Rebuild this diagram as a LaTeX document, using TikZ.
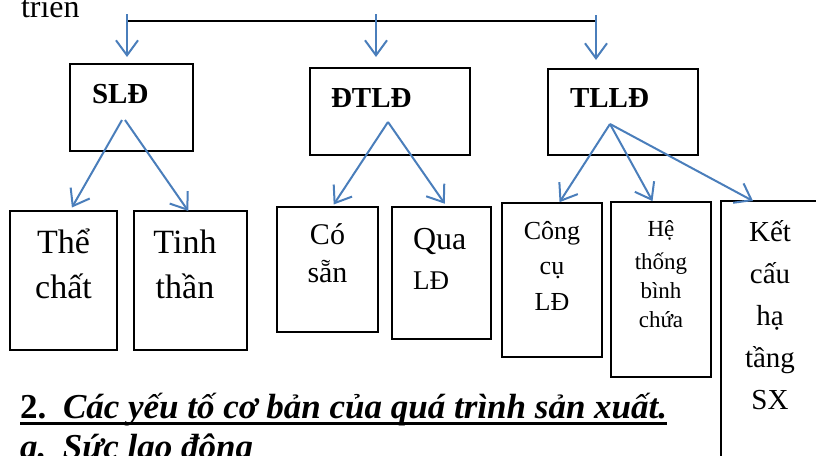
\documentclass[tikz,border=0pt]{standalone}
\usepackage{fontspec}
\setmainfont{Liberation Serif}
\usetikzlibrary{arrows.meta,calc}
\definecolor{arrblue}{RGB}{74,126,187}
\begin{document}
\begin{tikzpicture}[x=1pt,y=-1pt,
  box/.style={draw=black,line width=1.8pt,rectangle,inner sep=0pt,outer sep=0pt,anchor=north west},
  arr/.style={draw=arrblue,line width=2pt,-{Straight Barb[length=15pt,width=22pt]}},
  txt/.style={inner sep=0pt,outer sep=0pt}]
\useasboundingbox (0,0) rectangle (816,455);
\clip (0,0) rectangle (816,455);

% top-level boxes
\node[box,minimum width=123pt,minimum height=87pt] (sld) at (70,64) {};
\node[box,minimum width=160pt,minimum height=87pt] (dtld) at (310,68) {};
\node[box,minimum width=150pt,minimum height=86pt] (tlld) at (548,69) {};
% child boxes
\node[box,minimum width=107pt,minimum height=139pt] (the) at (10,211) {};
\node[box,minimum width=113pt,minimum height=139pt] (tinh) at (134,211) {};
\node[box,minimum width=101pt,minimum height=125pt] (co) at (277,207) {};
\node[box,minimum width=99pt,minimum height=132pt] (qua) at (392,207) {};
\node[box,minimum width=100pt,minimum height=154pt] (cong) at (502,203) {};
\node[box,minimum width=100pt,minimum height=175pt] (he) at (611,202) {};
\node[box,minimum width=98pt,minimum height=270pt] (ket) at (721,201) {};

% texts (anchor=base is the baseline of the last line)
\node[txt,anchor=base west,font=\fontsize{32}{38}\selectfont] (tr) at (21,17) {triển};
\node[txt,anchor=base west,font=\bfseries\fontsize{29}{34}\selectfont] (sldt) at (92,103) {SLĐ};
\node[txt,anchor=base west,font=\bfseries\fontsize{29}{34}\selectfont] (dtldt) at (331,107) {ĐTLĐ};
\node[txt,anchor=base west,font=\bfseries\fontsize{29}{34}\selectfont] (tlldt) at (570,107) {TLLĐ};
\node[txt,anchor=base,align=center,font=\fontsize{34}{45}\selectfont] (thet) at (63.5,298) {Thể\\chất};
\node[txt,anchor=base,align=center,font=\fontsize{34}{45}\selectfont] (tinht) at (185,298) {Tinh\\thần};
\node[txt,anchor=base,align=center,font=\fontsize{30}{38}\selectfont] (cot) at (327.5,282) {Có\\sẵn};
\node[txt,anchor=base west,align=left,font=\fontsize{32}{40}\selectfont] (quat) at (413,289) {Qua\\{\fontsize{27}{40}\selectfont LĐ}};
\node[txt,anchor=base,align=center,font=\fontsize{26}{35.5}\selectfont] (congt) at (552,310) {Công\\cụ\\LĐ};
\node[txt,anchor=base,align=center,font=\fontsize{23}{29}\selectfont] (het) at (661,327) {Hệ\\[4pt]thống\\bình\\chứa};
\node[txt,anchor=base,align=center,font=\fontsize{29}{42}\selectfont] (kett) at (770,409) {Kết\\cấu\\hạ\\tầng\\SX};
\node[txt,anchor=base west,font=\bfseries\fontsize{35}{40}\selectfont] (head) at (20,418) {\makebox[43pt][l]{2.}\textit{Các yếu tố cơ bản của quá trình sản xuất.}};
\node[txt,anchor=base west,font=\bfseries\itshape\fontsize{35}{40}\selectfont] (suc) at (20,458) {\makebox[43pt][l]{a.}Sức lao động};
\draw[line width=3pt] ([yshift=-5.5pt]head.base west) -- ([yshift=-5.5pt]head.base east);

% top connector
\coordinate (hl1) at (127,21);
\coordinate (hl2) at (596,21);
\coordinate (s1) at (127,14);
\coordinate (s2) at (376,14);
\coordinate (s3) at (596,15);
\draw[line width=1.6pt] (hl1) -- (hl2);
\draw[arr,shorten >=7pt] (s1) -- (s1 |- sld.north);
\draw[arr,shorten >=11pt] (s2) -- (s2 |- dtld.north);
\draw[arr,shorten >=9pt] (s3) -- (s3 |- tlld.north);

% branch arrows
\coordinate (pa) at (122,120);
\coordinate (pb) at (125,120);
\coordinate (pc) at (388,122);
\coordinate (pd) at (610,124);
\draw[arr,shorten >=4pt] (pa) -- ($(the.north west)!0.56!(the.north east)$);
\draw[arr] (pb) -- ($(tinh.north west)!0.48!(tinh.north east)$);
\draw[arr,shorten >=3pt] (pc) -- ($(co.north west)!0.545!(co.north east)$);
\draw[arr,shorten >=4pt] (pc) -- ($(qua.north west)!0.556!(qua.north east)$);
\draw[arr,shorten >=1pt] (pd) -- ($(cong.north west)!0.57!(cong.north east)$);
\draw[arr,shorten >=1pt] (pd) -- ($(he.north west)!0.42!(he.north east)$);
\draw[arr] (pd) -- ($(ket.north west)!0.327!(ket.north east)$);
\end{tikzpicture}
\end{document}
